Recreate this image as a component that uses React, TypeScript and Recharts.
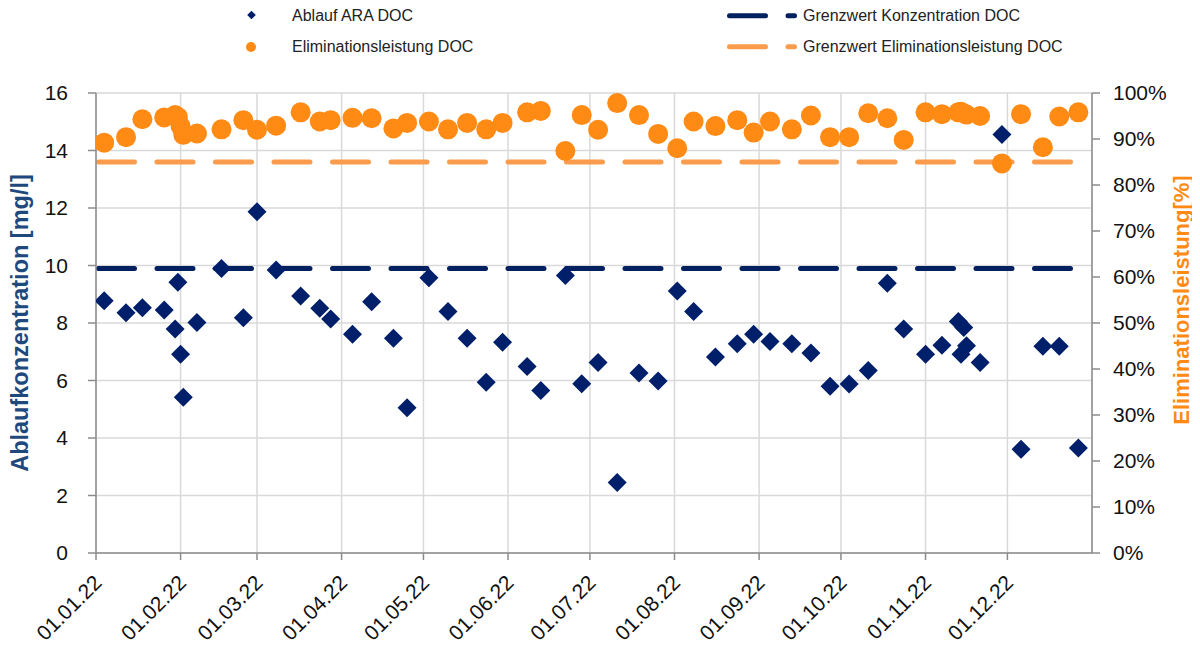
import React from 'react';
import { ComposedChart, Scatter, Line, XAxis, YAxis, CartesianGrid } from 'recharts';

// sample dates (2022) and measured values
const sampleDates = [
  '2022-01-04', '2022-01-12', '2022-01-18', '2022-01-26', '2022-01-30', '2022-01-31',
  '2022-02-01', '2022-02-02', '2022-02-07', '2022-02-16', '2022-02-24', '2022-03-01',
  '2022-03-08', '2022-03-17', '2022-03-24', '2022-03-28', '2022-04-05', '2022-04-12',
  '2022-04-20', '2022-04-25', '2022-05-03', '2022-05-10', '2022-05-17', '2022-05-24',
  '2022-05-30', '2022-06-08', '2022-06-13', '2022-06-22', '2022-06-28', '2022-07-04',
  '2022-07-11', '2022-07-19', '2022-07-26', '2022-08-02', '2022-08-08', '2022-08-16',
  '2022-08-24', '2022-08-30', '2022-09-05', '2022-09-13', '2022-09-20', '2022-09-27',
  '2022-10-04', '2022-10-11', '2022-10-18', '2022-10-24', '2022-11-01', '2022-11-07',
  '2022-11-13', '2022-11-14', '2022-11-15', '2022-11-16', '2022-11-21', '2022-11-29',
  '2022-12-06', '2022-12-14', '2022-12-20', '2022-12-27',
];

const outflowDoc = [
  8.77, 8.36, 8.53, 8.45, 7.79, 9.42,
  6.91, 5.42, 8.02, 9.9, 8.18, 11.87,
  9.84, 8.94, 8.51, 8.14, 7.61, 8.74,
  7.47, 5.05, 9.57, 8.4, 7.47, 5.94,
  7.33, 6.49, 5.65, 9.65, 5.89, 6.63,
  2.45, 6.26, 5.98, 9.11, 8.4, 6.82,
  7.28, 7.61, 7.36, 7.28, 6.96, 5.8,
  5.88, 6.35, 9.38, 7.79, 6.91, 7.23,
  8.05, 6.91, 7.84, 7.21, 6.63, 14.56,
  3.61, 7.19, 7.19, 3.65,
];

const eliminationDoc = [
  89.2, 90.4, 94.3, 94.7, 95.2, 94.8,
  92.8, 90.9, 91.2, 92.1, 94.1, 92.0,
  92.9, 95.8, 93.8, 94.1, 94.6, 94.5,
  92.3, 93.5, 93.8, 92.1, 93.5, 92.1,
  93.5, 95.8, 96.1, 87.4, 95.2, 92.0,
  97.8, 95.2, 91.1, 88.0, 93.8, 92.8,
  94.1, 91.4, 93.8, 92.1, 95.1, 90.4,
  90.4, 95.6, 94.5, 89.8, 95.8, 95.4,
  95.8, 95.9, 95.6, 95.3, 95.0, 84.7,
  95.4, 88.2, 94.9, 95.8,
];

const limitDates = ['2022-01-01', '2022-12-31'];
const limitConcentration = [9.9, 9.9];
const limitElimination = [85, 85];

const monthTicks = [
  '2022-01-01', '2022-02-01', '2022-03-01', '2022-04-01', '2022-05-01', '2022-06-01',
  '2022-07-01', '2022-08-01', '2022-09-01', '2022-10-01', '2022-11-01', '2022-12-01',
];
const dateRange = ['2022-01-01', '2023-01-01'];
const leftTicks = [0, 2, 4, 6, 8, 10, 12, 14, 16];
const rightTicks = [0, 10, 20, 30, 40, 50, 60, 70, 80, 90, 100];

const seriesNames = {
  outflow: 'Ablauf ARA DOC',
  elimination: 'Eliminationsleistung DOC',
  limitConc: 'Grenzwert Konzentration DOC',
  limitElim: 'Grenzwert Eliminationsleistung DOC',
};

const NAVY = '#001F6A';
const NAVY_LINE = '#002060';
const ORANGE = '#FF8A14';
const ORANGE_LINE = '#FA9C4C';
const AXIS = '#8C8C8C';
const GRID = '#D9D9D9';
const FONT = '"Liberation Sans", Arial, sans-serif';

const toTime = (d: string) => Date.parse(d + 'T00:00:00Z');

const outflowData = sampleDates.map((d, i) => ({ t: toTime(d), v: outflowDoc[i] }));
const eliminationData = sampleDates.map((d, i) => ({ t: toTime(d), e: eliminationDoc[i] }));
const concLimitData = limitDates.map((d, i) => ({ t: toTime(d), c: limitConcentration[i] }));
const elimLimitData = limitDates.map((d, i) => ({ t: toTime(d), p: limitElimination[i] }));

const pad = (n: number) => String(n).padStart(2, '0');
const formatDate = (ts: number) => {
  const d = new Date(ts);
  return `${pad(d.getUTCDate())}.${pad(d.getUTCMonth() + 1)}.${String(d.getUTCFullYear()).slice(2)}`;
};

const Diamond = (props: any) => {
  const { cx, cy } = props;
  if (cx == null || cy == null) return null;
  const r = 9.5;
  return (
    <polygon
      points={`${cx},${cy - r} ${cx + r},${cy} ${cx},${cy + r} ${cx - r},${cy}`}
      fill={NAVY}
    />
  );
};

const Dot = (props: any) => {
  const { cx, cy } = props;
  if (cx == null || cy == null) return null;
  return <circle cx={cx} cy={cy} r={10} fill={ORANGE} />;
};

const DateTick = (props: any) => {
  const { x, y, payload } = props;
  const ax = x + 7;
  const ay = y + 22;
  return (
    <text
      x={ax}
      y={ay}
      textAnchor="end"
      transform={`rotate(-45 ${ax} ${ay})`}
      fontSize={21}
      fontFamily={FONT}
      fill="#111"
    >
      {formatDate(payload.value)}
    </text>
  );
};

const W = 1184;
const H = 642;

export default function App() {
  const tickStyle = { fontSize: 21, fontFamily: FONT, fill: '#111' };
  return (
    <div style={{ position: 'relative', width: W, height: H }}>
      <ComposedChart
        width={W}
        height={H}
        margin={{ top: 85, right: 0, bottom: 0, left: 0 }}
      >
        <CartesianGrid yAxisId="left" stroke={GRID} strokeWidth={1.5} />
        <XAxis
          dataKey="t"
          type="number"
          scale="time"
          domain={dateRange.map(toTime)}
          ticks={monthTicks.map(toTime)}
          tickFormatter={formatDate}
          tick={<DateTick />}
          height={97}
          interval={0}
          axisLine={{ stroke: AXIS, strokeWidth: 1.5 }}
          tickLine={{ stroke: AXIS, strokeWidth: 1.5 }}
          tickSize={7}
          allowDataOverflow
        />
        <YAxis
          yAxisId="left"
          type="number"
          domain={[0, 16]}
          ticks={leftTicks}
          width={88}
          tick={tickStyle}
          tickSize={8}
          tickMargin={20}
          axisLine={{ stroke: AXIS, strokeWidth: 1.5 }}
          tickLine={{ stroke: AXIS, strokeWidth: 1.5 }}
          allowDataOverflow
        />
        <YAxis
          yAxisId="right"
          orientation="right"
          type="number"
          domain={[0, 100]}
          ticks={rightTicks}
          tickFormatter={(v: number) => `${v}%`}
          width={100}
          tick={{ ...tickStyle, textAnchor: 'start' }}
          tickSize={8}
          tickMargin={13}
          axisLine={{ stroke: AXIS, strokeWidth: 1.5 }}
          tickLine={{ stroke: AXIS, strokeWidth: 1.5 }}
          allowDataOverflow
        />
        <Line
          yAxisId="left"
          data={concLimitData}
          dataKey="c"
          name={seriesNames.limitConc}
          stroke={NAVY_LINE}
          strokeWidth={5}
          strokeDasharray="36 22.5"
          strokeDashoffset={-2.5}
          strokeLinecap="round"
          dot={false}
          activeDot={false}
          isAnimationActive={false}
        />
        <Line
          yAxisId="right"
          data={elimLimitData}
          dataKey="p"
          name={seriesNames.limitElim}
          stroke={ORANGE_LINE}
          strokeWidth={5}
          strokeDasharray="36 22.5"
          strokeDashoffset={-2.5}
          strokeLinecap="round"
          dot={false}
          activeDot={false}
          isAnimationActive={false}
        />
        <Scatter
          yAxisId="right"
          data={eliminationData}
          dataKey="e"
          name={seriesNames.elimination}
          shape={<Dot />}
          isAnimationActive={false}
        />
        <Scatter
          yAxisId="left"
          data={outflowData}
          dataKey="v"
          name={seriesNames.outflow}
          shape={<Diamond />}
          isAnimationActive={false}
        />
      </ComposedChart>

      <svg
        width={W}
        height={H}
        style={{ position: 'absolute', left: 0, top: 0, pointerEvents: 'none', overflow: 'visible' }}
        fontFamily={FONT}
      >
        {/* legend */}
        <polygon points="243.5,2.7 247.8,7 243.5,11.3 239.2,7" fill={NAVY} />
        <text x={284} y={13} fontSize={16} fill="#222">{seriesNames.outflow}</text>
        <circle cx={243} cy={39} r={5} fill={ORANGE} />
        <text x={284} y={44} fontSize={16} fill="#222">{seriesNames.elimination}</text>

        <line x1={721.5} y1={7.7} x2={786.5} y2={7.7} stroke={NAVY_LINE} strokeWidth={5}
          strokeDasharray="36 22.5" strokeLinecap="round" />
        <text x={795} y={13} fontSize={16} fill="#222">{seriesNames.limitConc}</text>
        <line x1={721.5} y1={38.7} x2={786.5} y2={38.7} stroke={ORANGE_LINE} strokeWidth={5}
          strokeDasharray="36 22.5" strokeLinecap="round" />
        <text x={795} y={44} fontSize={16} fill="#222">{seriesNames.limitElim}</text>

        {/* axis titles */}
        <text
          x={20}
          y={315}
          transform="rotate(-90 20 315)"
          textAnchor="middle"
          fontSize={23.5}
          fontWeight="bold"
          fill="#1F497D"
        >
          Ablaufkonzentration [mg/l]
        </text>
        <text
          x={1181}
          y={292}
          transform="rotate(-90 1181 292)"
          textAnchor="middle"
          fontSize={22}
          fontWeight="bold"
          fill={ORANGE}
        >
          Eliminationsleistung[%]
        </text>
      </svg>
    </div>
  );
}
